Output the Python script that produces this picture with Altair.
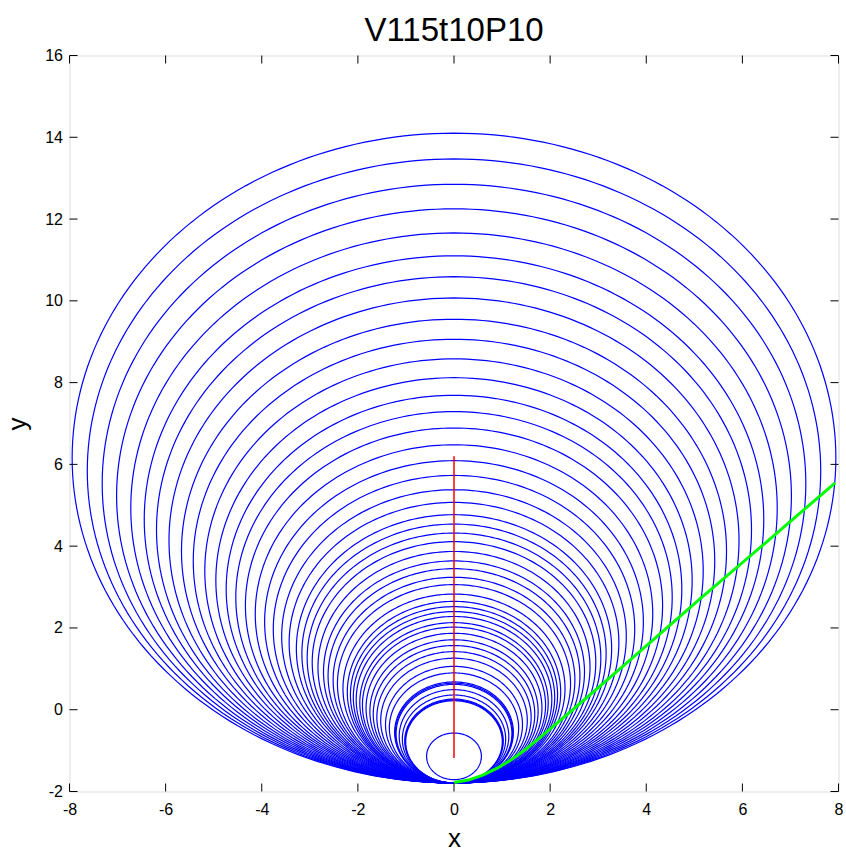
import numpy as np
import pandas as pd
import altair as alt

alt.data_transformers.disable_max_rows()

# Wavefront tops (y at x=0) and bottoms
tops = [14.10, 13.47, 12.85, 12.25, 11.66, 11.10, 10.59, 10.07, 9.55, 9.06,
        8.58, 8.12, 7.69, 7.29, 6.89, 6.48, 6.09, 5.73, 5.38, 5.07,
        4.77, 4.54, 4.32, 4.11, 3.87, 3.64, 3.45, 3.24, 3.06, 2.83,
        2.65, 2.52, 2.40, 2.28, 2.13, 2.02, 1.87, 1.71, 1.57, 1.42,
        1.26, 1.06, 0.90, 0.68, 0.65, 0.62, 0.49, 0.36, 0.26, 0.24, 0.22,
        -0.57]
bottoms = [-1.79] * 51 + [-1.71]

# Red source path
red_x = [0.0, 0.0]
red_y = [-1.18, 6.20]

# Green curve
green_x = [0.0, 0.3, 0.6, 0.9, 1.2, 1.5, 1.8, 2.5, 3.5, 5.1, 6.5, 7.93]
green_y = [-1.78, -1.72, -1.60, -1.43, -1.22, -0.96, -0.67, 0.03, 1.05, 2.69, 4.10, 5.55]

x_ticks = [-8, -6, -4, -2, 0, 2, 4, 6, 8]
y_ticks = [-2, 0, 2, 4, 6, 8, 10, 12, 14, 16]

W, H = 769, 736
FONT = "Liberation Sans"

rows = []
theta = np.linspace(0, 2 * np.pi, 241)
for i, (t, b) in enumerate(zip(tops, bottoms)):
    c = (t + b) / 2
    r = (t - b) / 2
    for k, th in enumerate(theta):
        rows.append({"id": i, "k": k, "x": r * np.sin(th), "y": c + r * np.cos(th)})
circ = pd.DataFrame(rows)

xs = alt.Scale(domain=[-8, 8], nice=False, zero=False)
ys = alt.Scale(domain=[-2, 16], nice=False, zero=False)

xaxis = alt.Axis(values=x_ticks, title="x", ticks=False, domain=False, grid=False,
                 labelExpr="'' + datum.value", labelFlush=False,
                 labelFont=FONT, labelFontSize=16, labelColor="black", labelPadding=10,
                 titleFont=FONT, titleFontSize=26, titleFontWeight="normal",
                 titleColor="black", titlePadding=8)
yaxis = alt.Axis(values=y_ticks, title="y", ticks=False, domain=False, grid=False,
                 labelExpr="'' + datum.value", labelFlush=False,
                 labelFont=FONT, labelFontSize=16, labelColor="black", labelPadding=7,
                 titleFont=FONT, titleFontSize=26, titleFontWeight="normal",
                 titleColor="black", titlePadding=14)

def xenc(field):
    return alt.X(field, scale=xs, axis=xaxis, title="x")

def yenc(field):
    return alt.Y(field, scale=ys, axis=yaxis, title="y")

circles = alt.Chart(circ).mark_line(color="#0000ff", strokeWidth=1.2, clip=True).encode(
    x=xenc("x:Q"), y=yenc("y:Q"), detail="id:N", order="k:Q")

red = alt.Chart(pd.DataFrame({"x": red_x, "y": red_y})).mark_line(
    color="#ff0000", strokeWidth=1.5).encode(x=xenc("x:Q"), y=yenc("y:Q"))

green = alt.Chart(pd.DataFrame({"x": green_x, "y": green_y})).mark_line(
    color="#00ff00", strokeWidth=3).encode(x=xenc("x:Q"), y=yenc("y:Q"))

TL = 8
xt = pd.DataFrame({"t": x_ticks})
yt = pd.DataFrame({"t": y_ticks})
xtick_b = alt.Chart(xt).mark_rule(color="black", strokeWidth=1).encode(
    x=xenc("t:Q"), y=alt.value(H), y2=alt.value(H - TL))
xtick_t = alt.Chart(xt).mark_rule(color="black", strokeWidth=1).encode(
    x=xenc("t:Q"), y=alt.value(0), y2=alt.value(TL))
ytick_l = alt.Chart(yt).mark_rule(color="black", strokeWidth=1).encode(
    y=yenc("t:Q"), x=alt.value(0), x2=alt.value(TL))
ytick_r = alt.Chart(yt).mark_rule(color="black", strokeWidth=1).encode(
    y=yenc("t:Q"), x=alt.value(W), x2=alt.value(W - TL))

chart = alt.layer(circles, red, green, xtick_b, xtick_t, ytick_l, ytick_r).properties(
    width=W, height=H,
    title=alt.TitleParams("V115t10P10", font=FONT, fontSize=33, fontWeight="normal",
                          color="black", offset=0),
    autosize=alt.AutoSizeParams(type="none"),
    padding={"left": 69.5, "top": 55.5, "right": 7.5, "bottom": 61.5},
).configure_view(stroke="#000000", strokeWidth=1).configure(background="white")

chart.save("out.html", embed_options={"renderer": "svg", "actions": False})
